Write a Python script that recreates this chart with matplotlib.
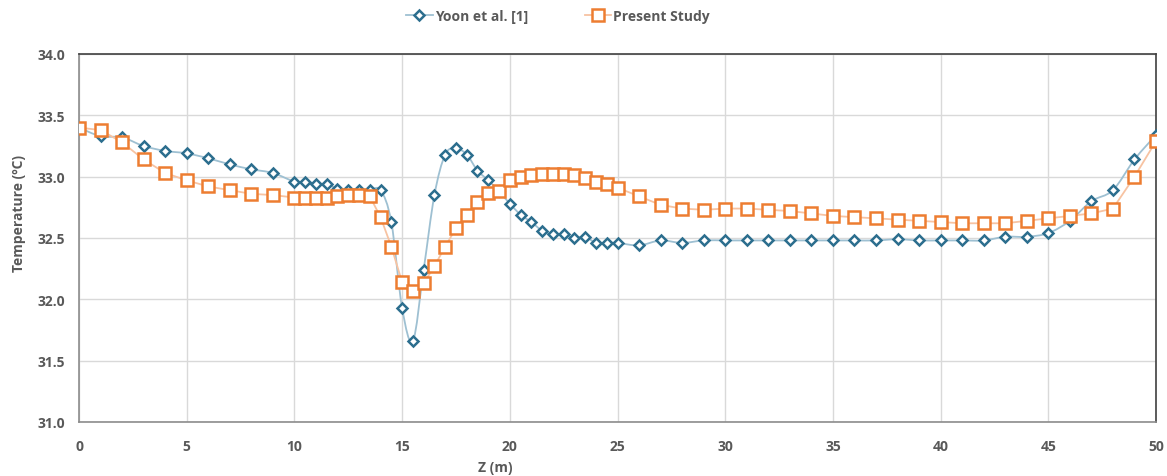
import matplotlib
matplotlib.use("Agg")
import matplotlib.pyplot as plt
from matplotlib.path import Path
from matplotlib.patches import PathPatch
from matplotlib.lines import Line2D
import numpy as np

plt.rcParams['font.family'] = ['Open Sans', 'DejaVu Sans']

z = [0, 1, 2, 3, 4, 5, 6, 7, 8, 9, 10,
     10.5, 11, 11.5, 12, 12.5, 13, 13.5, 14, 14.5, 15, 15.5, 16, 16.5, 17, 17.5,
     18, 18.5, 19, 19.5, 20, 20.5, 21, 21.5, 22, 22.5, 23, 23.5, 24, 24.5, 25,
     26, 27, 28, 29, 30, 31, 32, 33, 34, 35, 36, 37, 38, 39, 40, 41, 42, 43, 44,
     45, 46, 47, 48, 49, 50]

yoon = [33.40, 33.33, 33.32, 33.25, 33.21, 33.19, 33.15, 33.10, 33.06, 33.03, 32.96,
        32.96, 32.94, 32.94, 32.90, 32.89, 32.89, 32.89, 32.89, 32.63, 31.93, 31.66,
        32.24, 32.85, 33.18, 33.23, 33.18, 33.05, 32.97, 32.88, 32.78, 32.69, 32.63,
        32.56, 32.53, 32.53, 32.50, 32.51, 32.46, 32.46, 32.46,
        32.44, 32.48, 32.46, 32.48, 32.48, 32.48, 32.48, 32.48, 32.48, 32.48, 32.48,
        32.48, 32.49, 32.48, 32.48, 32.48, 32.48, 32.51, 32.51, 32.54, 32.64, 32.80,
        32.89, 33.14, 33.34]

present = [33.40, 33.38, 33.28, 33.14, 33.03, 32.97, 32.92, 32.89, 32.86, 32.85, 32.83,
           32.83, 32.83, 32.83, 32.84, 32.85, 32.85, 32.84, 32.67, 32.43, 32.14, 32.07,
           32.13, 32.27, 32.43, 32.58, 32.69, 32.79, 32.87, 32.88, 32.97, 33.00, 33.01,
           33.02, 33.02, 33.02, 33.01, 32.99, 32.96, 32.94, 32.91,
           32.84, 32.77, 32.74, 32.73, 32.74, 32.74, 32.73, 32.72, 32.70, 32.68, 32.67,
           32.66, 32.65, 32.64, 32.63, 32.62, 32.62, 32.62, 32.64, 32.66, 32.68, 32.70,
           32.74, 33.00, 33.29]

x_ticks = [0, 5, 10, 15, 20, 25, 30, 35, 40, 45, 50]
y_ticks = [31.0, 31.5, 32.0, 32.5, 33.0, 33.5, 34.0]

BLUE = '#2c6e8e'
BLUE_LINE = '#9ec0d2'
ORANGE = '#ed7d31'
ORANGE_LINE = '#f7c3a2'
TXT = '#595959'
FS = 10


def smooth_path(xs, ys):
    pts = np.column_stack([xs, ys]).astype(float)
    n = len(pts)
    verts = [pts[0]]
    codes = [Path.MOVETO]
    for i in range(n - 1):
        p0 = pts[i - 1] if i > 0 else pts[i]
        p1 = pts[i]
        p2 = pts[i + 1]
        p3 = pts[i + 2] if i + 2 < n else pts[i + 1]
        c1 = p1 + (p2 - p0) / 6.0
        c2 = p2 - (p3 - p1) / 6.0
        verts += [c1, c2, p2]
        codes += [Path.CURVE4] * 3
    return Path(verts, codes)


fig = plt.figure(figsize=(11.67, 4.77), dpi=100)
ax = fig.add_axes([79 / 1167, 1 - 423 / 477, (1156 - 79) / 1167, (423 - 55) / 477])

ax.set_xlim(0, 50)
ax.set_ylim(31.0, 34.0)
ax.set_xticks(x_ticks)
ax.set_yticks(y_ticks)
ax.set_xticklabels([str(t) for t in x_ticks])
ax.set_yticklabels([f'{t:.1f}' for t in y_ticks])
ax.grid(True, color='#d9d9d9', linewidth=1.0)
ax.set_axisbelow(True)
ax.tick_params(length=0, labelsize=FS, labelcolor=TXT)
ax.tick_params(axis='y', pad=10)
ax.tick_params(axis='x', pad=12)
for lbl in ax.get_xticklabels() + ax.get_yticklabels():
    lbl.set_fontweight('bold')

for side in ['left', 'bottom']:
    ax.spines[side].set_color('#8c8c8c')
    ax.spines[side].set_linewidth(1.2)
for side in ['top', 'right']:
    ax.spines[side].set_color('#404040')
    ax.spines[side].set_linewidth(1.2)

# Yoon: smoothed line
patch = PathPatch(smooth_path(z, yoon), facecolor='none', edgecolor=BLUE_LINE,
                  linewidth=1.3, zorder=2)
ax.add_patch(patch)
ax.plot(z, present, '-', color=ORANGE_LINE, linewidth=1.3, zorder=2)

ax.plot(z, yoon, linestyle='none', marker='D', markersize=5.5, markerfacecolor='white',
        markeredgecolor=BLUE, markeredgewidth=1.8, zorder=3)
ax.plot(z, present, linestyle='none', marker='s', markersize=8, markerfacecolor='white',
        markeredgecolor=ORANGE, markeredgewidth=1.8, zorder=4)

ax.set_xlabel('Z (m)', fontsize=FS, fontweight='bold', color=TXT)
ax.xaxis.set_label_coords((495 - 79) / 1077, (423 - 461) / 368)
ax.set_ylabel('Temperature (ºC)', fontsize=FS, fontweight='bold', color=TXT)
ax.yaxis.set_label_coords((26 - 79) / 1077, (423 - 213) / 368)

handles = [
    Line2D([0], [0], color=BLUE_LINE, linewidth=1.3, marker='D', markersize=5.5,
           markerfacecolor='white', markeredgecolor=BLUE, markeredgewidth=1.8),
    Line2D([0], [0], color=ORANGE_LINE, linewidth=1.3, marker='s', markersize=8,
           markerfacecolor='white', markeredgecolor=ORANGE, markeredgewidth=1.8),
]
leg = fig.legend(handles, ['Yoon et al. [1]', 'Present Study'], loc='center',
                 bbox_to_anchor=(558 / 1167, 1 - 17 / 477), ncol=2, frameon=False,
                 handlelength=1.9, columnspacing=4.1, handletextpad=0.15,
                 prop={'size': FS, 'weight': 'bold'})
for t in leg.get_texts():
    t.set_color(TXT)

fig.savefig('out.png', dpi=100)
